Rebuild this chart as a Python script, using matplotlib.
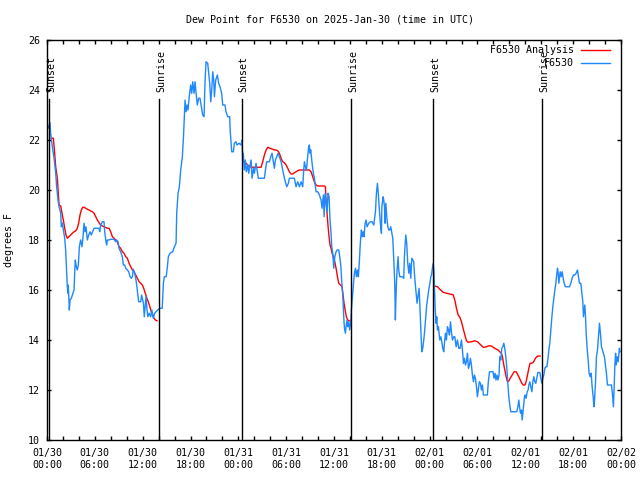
import numpy as np
import matplotlib
matplotlib.use("Agg")
import matplotlib.pyplot as plt

plt.rcParams['font.family'] = ['DejaVu Sans Mono']
plt.rcParams['font.size'] = 7.2

# hours since 2025-01-30 00:00 UTC, dew point in degrees F
obs_hours = [
    0.13, 0.38, 0.45, 0.67, 0.88, 1.09, 1.21, 1.38, 1.51, 1.72, 1.8, 1.92, 2.05, 2.22, 2.34, 2.47,
    2.55, 2.63, 2.67, 2.8, 2.89, 3.05, 3.26, 3.39, 3.47, 3.55, 3.68, 3.8, 3.93, 4.06, 4.22, 4.39,
    4.52, 4.64, 4.77, 4.89, 5.06, 5.23, 5.4, 5.56, 5.73, 5.9, 6.32, 6.53, 6.61, 6.73, 6.94, 7.15,
    7.24, 7.4, 7.48, 7.57, 7.78, 7.99, 8.41, 8.62, 8.74, 8.91, 9.03, 9.24, 9.45, 9.58, 9.75, 9.87,
    10.08, 10.25, 10.42, 10.58, 10.71, 10.83, 11.0, 11.13, 11.25, 11.38, 11.5, 11.75, 11.88, 12.0,
    12.1, 12.2, 12.42, 12.55, 12.65, 12.8, 13.0, 13.15, 13.34, 13.5, 13.67, 13.88, 14.18, 14.45,
    14.6, 14.72, 14.95, 15.1, 15.22, 15.43, 15.77, 15.98, 16.19, 16.27, 16.44, 16.6, 16.77, 16.98,
    17.11, 17.23, 17.32, 17.44, 17.57, 17.69, 17.82, 18.02, 18.15, 18.28, 18.44, 18.57, 18.7,
    18.86, 19.02, 19.19, 19.36, 19.53, 19.7, 19.82, 19.95, 20.16, 20.29, 20.41, 20.54, 20.66,
    20.79, 20.91, 21.0, 21.16, 21.37, 21.53, 21.7, 21.91, 22.04, 22.33, 22.45, 22.67, 22.92,
    22.96, 23.05, 23.17, 23.38, 23.5, 23.7, 23.84, 24.09,
    24.34, 24.47, 24.55, 24.62, 24.76, 24.88, 25.0, 25.18, 25.3, 25.43, 25.6, 25.72, 25.9, 26.01,
    26.22, 26.35, 26.51, 26.85, 27.27, 27.4, 27.56, 27.9, 28.07, 28.23, 28.36, 28.52, 28.65,
    28.82, 28.98, 29.15, 29.36, 29.57, 29.78, 29.9, 30.07, 30.28, 30.4, 31.03, 31.24, 31.45,
    31.66, 31.87, 32.08, 32.2, 32.29, 32.41, 32.54, 32.7, 32.8, 32.91, 33.0, 33.08, 33.25, 33.41,
    33.54, 33.75, 33.96, 34.17, 34.38, 34.5, 34.67, 34.76, 34.88, 35.0, 35.13, 35.25, 35.38,
    35.5, 35.63, 35.72, 35.84, 35.97, 36.1, 36.26, 36.39, 36.6, 36.72, 36.85, 36.93, 37.01,
    37.1, 37.22, 37.31, 37.43, 37.51, 37.64, 37.72, 37.85, 37.97, 38.1, 38.18, 38.31, 38.43,
    38.56, 38.69, 38.81, 38.94, 39.06, 39.19, 39.31, 39.44, 39.52, 39.65, 39.77, 39.9, 40.02,
    40.15, 40.36, 40.57, 40.78, 40.99, 41.2, 41.32, 41.45, 41.57, 41.66, 41.82, 41.95, 42.0,
    42.16, 42.24, 42.33, 42.41, 42.5, 42.62, 42.75, 42.87, 43.0, 43.12, 43.37, 43.5, 43.62,
    43.7, 43.75, 43.83, 43.91, 44.04, 44.12, 44.25, 44.54, 44.75, 44.83, 44.92, 45.0, 45.12,
    45.25, 45.38, 45.5, 45.63, 45.76, 45.88, 46.0, 46.13, 46.26, 46.42, 46.55, 46.67, 46.76,
    46.84, 46.93, 47.01, 47.13, 47.26, 47.38, 47.51, 47.63, 47.76, 47.88, 48.0, 48.14, 48.23,
    48.35, 48.43, 48.52, 48.6, 48.68, 48.81, 48.89, 48.98, 49.1, 49.27, 49.4, 49.52, 49.64,
    49.77, 49.85, 49.98, 50.1, 50.23, 50.36, 50.48, 50.61, 50.73, 50.86, 51.03, 51.15, 51.32,
    51.48, 51.65, 51.82, 51.99, 52.11, 52.24, 52.36, 52.49, 52.61, 52.74, 52.86, 52.99, 53.11,
    53.24, 53.36, 53.49, 53.61, 53.74, 53.87, 53.99, 54.12, 54.24, 54.37, 54.49, 54.62, 54.74,
    55.24, 55.36, 55.5, 55.95, 56.07, 56.2, 56.32, 56.45, 56.57, 56.7, 56.8, 56.92, 57.05,
    57.17, 57.3, 57.42, 57.55, 57.68, 57.8, 57.93, 58.05, 58.18, 58.93, 59.06, 59.18, 59.27,
    59.39, 59.52, 59.6, 59.68, 59.77, 59.89, 59.97, 60.1, 60.23, 60.35, 60.44, 60.56, 60.69,
    60.82, 60.94, 61.07, 61.19, 61.32, 61.44, 61.57, 61.82, 61.94, 62.07, 62.2, 62.32, 62.45,
    62.57, 62.7, 62.82, 62.95, 63.07, 63.2, 63.33, 63.45, 63.58, 63.7, 63.83, 63.95, 64.04,
    64.12, 64.2, 64.37, 64.5, 64.62, 64.75, 64.87, 65.04, 65.54, 65.71, 65.87, 66.04, 66.2,
    66.37, 66.54, 66.67, 66.79, 66.96, 67.08, 67.21, 67.29, 67.38, 67.46, 67.54, 67.63, 67.75,
    67.88, 68.0, 68.13, 68.26, 68.38, 68.51, 68.6, 68.68, 68.8, 68.92, 69.05, 69.17, 69.3,
    69.42, 69.55, 69.67, 69.8, 69.92, 70.05, 70.17, 70.3, 70.8, 70.92, 71.05, 71.13, 71.23,
    71.32, 71.4, 71.53, 71.65, 71.8, 71.88,
]
obs_dewpt = [
    22.47, 22.69, 22.28, 21.73, 21.28, 20.68, 20.13, 19.6, 19.33, 19.08, 18.53, 18.68, 18.4, 18.08, 17.6, 16.68,
    16.13, 15.87, 16.2, 15.2, 15.6, 15.67, 15.87, 16.0, 16.67, 17.2, 16.93, 16.8, 17.0, 17.73, 18.0, 17.73,
    18.13, 18.67, 18.33, 18.53, 18.0, 18.2, 18.33, 18.2, 18.33, 18.47, 18.47, 18.47, 18.33, 18.6, 18.73, 18.73,
    18.33, 17.93, 17.8, 18.0, 18.0, 18.03, 18.03, 17.93, 18.0, 17.93, 17.67, 17.53, 17.33, 17.0, 17.0, 16.87,
    16.8, 16.73, 16.53, 16.47, 16.53, 16.83, 16.67, 16.47, 16.2, 15.87, 15.53, 15.53, 15.8, 15.6,
    15.47, 14.93, 15.73, 15.2, 14.93, 15.07, 14.93, 15.2, 14.87, 15.07, 15.13, 15.2, 15.27, 15.27,
    16.27, 16.53, 16.53, 16.93, 17.33, 17.47, 17.53, 17.73, 17.87, 19.07, 19.87, 20.13, 20.8, 21.33,
    22.07, 22.93, 23.6, 23.13, 23.4, 23.2, 23.67, 24.2, 23.87, 24.33, 23.87, 24.33, 23.87,
    23.4, 23.67, 23.67, 23.33, 23.0, 22.93, 24.33, 25.13, 25.07, 24.67, 24.27, 23.53, 24.0,
    24.73, 24.4, 23.73, 24.4, 24.6, 24.27, 24.13, 23.87, 23.4, 23.4, 23.13, 22.93, 22.93,
    22.47, 22.07, 21.53, 21.53, 21.87, 21.93, 21.8, 21.87,
    21.8, 22.0, 21.13, 21.47, 20.8, 21.2, 20.73, 21.0, 20.67, 20.93, 21.2, 20.47, 20.87, 20.67,
    21.07, 20.8, 20.47, 20.47, 20.47, 20.8, 21.13, 21.13, 21.33, 21.47, 21.2, 20.87, 21.2,
    21.33, 21.47, 21.33, 21.13, 20.8, 20.47, 20.33, 20.13, 20.27, 20.47, 20.47, 20.13, 20.33,
    20.13, 20.33, 20.13, 20.8, 21.13, 20.93, 20.8, 21.33, 21.67, 21.8, 21.47, 21.6, 21.07, 20.67,
    20.47, 19.93, 19.93, 19.8, 19.6, 19.27, 19.8, 18.93, 19.87, 19.53, 19.13, 19.87, 19.73,
    18.8, 18.27, 17.73, 17.47, 16.87, 17.33, 17.53, 17.6, 17.6, 17.33, 17.0, 16.53, 16.13,
    15.8, 14.93, 14.47, 14.27, 14.53, 14.8, 14.53, 14.73, 14.4, 14.73, 15.2, 15.73, 16.2,
    16.67, 16.87, 16.53, 16.8, 16.53, 17.2, 17.93, 18.4, 18.13, 18.33, 18.13, 18.67, 18.8,
    18.53, 18.67, 18.73, 18.73, 18.6, 19.13, 19.87, 20.27, 19.8, 19.33, 18.67, 18.27, 19.33,
    19.73, 19.6, 19.33, 18.67, 19.47, 18.93, 18.53, 18.4, 18.4, 18.53, 18.07, 17.2, 16.27,
    14.8, 15.47, 16.27, 16.8, 17.33, 16.8, 16.53, 16.53, 16.47, 17.33, 17.8, 18.2, 17.87,
    17.07, 16.67, 17.07, 16.47, 17.27, 17.2, 17.13, 16.47, 16.0, 15.47, 15.8, 16.07, 15.47,
    14.8, 14.13, 13.53, 13.67, 14.0, 14.4, 14.93, 15.4, 15.73, 16.0, 16.2, 16.53, 16.6,
    16.87, 17.07, 16.8, 16.13, 15.33, 14.67, 14.93, 14.4, 14.53, 14.0, 14.13, 13.93, 13.67,
    13.53, 13.87, 14.27, 14.0, 14.53, 14.4, 14.2, 14.73, 14.33, 14.0, 14.13, 14.13, 13.73,
    14.0, 13.67, 13.67, 14.0, 13.6, 13.07, 13.27, 13.0, 13.13, 13.47, 12.87, 13.0, 13.27,
    13.0, 12.6, 12.33, 12.6, 12.47, 12.13, 11.73, 12.07, 12.33, 12.27, 12.0, 12.2, 11.8,
    11.8, 12.33, 12.73, 12.73, 12.47, 12.67, 12.4, 12.6, 12.4, 12.6, 13.33, 13.2, 13.67,
    13.73, 13.87, 13.67, 13.33, 12.87, 12.27, 11.73, 11.4, 11.13, 11.13, 11.33, 11.6, 11.33,
    11.07, 11.2, 10.8, 11.07, 11.33, 11.73, 11.8, 11.67, 11.93, 12.0, 12.2, 12.33, 12.13,
    11.93, 12.33, 12.53, 12.33, 12.27, 12.47, 12.7, 12.7, 12.47, 12.27, 12.47, 12.6, 12.87,
    12.93, 12.93, 13.2, 13.6, 13.87, 14.4, 14.93, 15.33, 15.67, 16.0, 16.27, 16.67, 16.87,
    16.67, 16.27, 16.73, 16.53, 16.73, 16.47, 16.27, 16.13, 16.13, 16.27, 16.47, 16.6, 16.6,
    16.67, 16.8, 16.53, 16.27, 16.27, 15.93, 15.53, 14.93, 15.2, 15.4, 15.0, 14.27, 13.67,
    13.2, 12.67, 12.53, 12.67, 12.13, 11.73, 11.33, 11.6, 12.27, 13.33, 13.6, 14.13, 14.67,
    14.27, 13.73, 13.6, 13.47, 13.33, 13.0, 12.67, 12.2, 12.2, 11.87, 11.33, 12.0, 13.0,
    13.47, 13.0, 13.33, 13.13, 13.67, 13.53,
]

# analysis series, NaN separates the three nights
ana_hours = [
    0.54, 0.8, 0.96, 1.09, 1.3, 1.38, 1.51, 1.72, 1.92, 2.05, 2.22, 2.38, 2.55, 2.76, 2.97, 3.18,
    3.39, 3.6, 3.8, 3.97, 4.14, 4.31, 4.48, 4.66, 4.85, 5.06, 5.27, 5.48, 5.69, 5.9, 6.11, 6.32,
    6.53, 6.73, 6.94, 7.15, 7.36, 7.57, 7.78, 7.99, 8.2, 8.41, 8.62, 8.83, 9.03, 9.24, 9.45,
    9.66, 9.87, 10.08, 10.29, 10.5, 10.71, 10.92, 11.13, 11.34, 11.55, 11.75, 11.96, 12.13,
    12.5, 12.84, 13.13, 13.42, 13.6, 13.8,
    np.nan,
    24.63, 24.96, 25.18, 25.39, 25.81, 26.22, 26.64, 26.85, 27.06, 27.27, 27.48, 27.69, 27.9,
    28.11, 28.32, 28.52, 28.73, 28.94, 29.15, 29.36, 29.57, 29.78, 29.99, 30.2, 30.4, 30.61,
    30.82, 31.03, 31.24, 31.45, 31.66, 32.08, 32.5, 32.91, 33.12, 33.33, 33.54, 33.75, 33.96,
    34.38, 34.8, 34.92, 35.0, 35.13, 35.26, 35.38, 35.5, 35.63, 35.76, 35.93, 36.1, 36.22,
    36.3, 36.43, 36.6, 36.81, 37.01, 37.14, 37.26, 37.43, 37.55, 37.72, 37.93,
    np.nan,
    48.64, 48.98, 49.27, 49.69, 50.11, 50.52, 50.94, 51.15, 51.36, 51.57, 51.78, 51.99, 52.2,
    52.41, 52.62, 52.82, 53.24, 53.66, 54.0, 54.29, 54.5, 54.71, 54.92, 55.12, 55.33, 55.54,
    55.75, 55.95, 56.16, 56.37, 56.58, 56.79, 57.0, 57.13, 57.26, 57.42, 57.59, 57.76, 57.93,
    58.1, 58.35, 58.6, 58.85, 59.01, 59.27, 59.52, 59.73, 59.94, 60.1, 60.23, 60.35, 60.48,
    60.6, 60.77, 60.94, 61.11, 61.27, 61.44, 61.61, 61.86,
]
ana_dewpt = [
    22.07, 22.07, 21.47, 20.93, 20.47, 20.07, 19.4, 19.36, 19.0, 18.8, 18.47, 18.2, 18.07, 18.13, 18.2, 18.27,
    18.33, 18.36, 18.47, 18.67, 19.0, 19.2, 19.31, 19.31, 19.27, 19.23, 19.2, 19.16, 19.13, 19.07, 18.93, 18.8,
    18.69, 18.6, 18.56, 18.53, 18.5, 18.47, 18.47, 18.33, 18.13, 18.07, 18.0, 17.93, 17.73, 17.67, 17.53,
    17.47, 17.33, 17.27, 17.07, 16.93, 16.8, 16.73, 16.6, 16.47, 16.33, 16.27, 16.2, 16.07,
    15.7, 15.4, 15.07, 14.87, 14.8, 14.77,
    np.nan,
    21.13, 21.07, 21.0, 20.93, 20.91, 20.91, 20.91, 20.91, 21.13, 21.4, 21.6, 21.71, 21.68,
    21.65, 21.63, 21.6, 21.6, 21.57, 21.47, 21.27, 21.13, 21.09, 21.0, 20.87, 20.73, 20.64,
    20.64, 20.69, 20.73, 20.77, 20.8, 20.8, 20.8, 20.8, 20.73, 20.53, 20.33, 20.2, 20.16,
    20.16, 20.16, 20.13, 19.6, 19.07, 18.53, 18.13, 17.8, 17.67, 17.47, 17.33, 17.13, 16.93,
    16.8, 16.53, 16.27, 16.2, 16.13, 15.8, 15.47, 15.13, 14.93, 14.8, 14.77,
    np.nan,
    16.16, 16.13, 16.03, 15.91, 15.87, 15.84, 15.81, 15.6, 15.27, 15.0, 14.91, 14.73, 14.47,
    14.2, 13.97, 13.91, 13.93, 13.97, 13.93, 13.84, 13.77, 13.71, 13.71, 13.73, 13.76, 13.77,
    13.76, 13.71, 13.67, 13.63, 13.6, 13.53, 13.47, 13.33, 13.07, 12.8, 12.53, 12.33, 12.36,
    12.47, 12.6, 12.73, 12.73, 12.64, 12.47, 12.29, 12.2, 12.2, 12.33, 12.53, 12.73, 12.93,
    13.07, 13.07, 13.09, 13.17, 13.27, 13.33, 13.36, 13.36,
]

sun_hours = [0.3, 14.1, 24.4, 38.17, 48.45, 62.15]
sun_labels = ["Sunset", "Sunrise", "Sunset", "Sunrise", "Sunset", "Sunrise"]

tick_hours = list(range(0, 73, 6))
tick_labels = ["01/30\n00:00", "01/30\n06:00", "01/30\n12:00", "01/30\n18:00",
               "01/31\n00:00", "01/31\n06:00", "01/31\n12:00", "01/31\n18:00",
               "02/01\n00:00", "02/01\n06:00", "02/01\n12:00", "02/01\n18:00",
               "02/02\n00:00"]

fig = plt.figure(figsize=(6.4, 4.8), dpi=100)
ax = fig.add_axes([47 / 640, 40 / 480, 574 / 640, 400 / 480])

red = '#ff0000'
blue = '#1e88ff'

ax.plot(ana_hours, ana_dewpt, color=red, lw=1)
ax.plot(obs_hours, obs_dewpt, color=blue, lw=1)

# sunrise / sunset markers
for t, lab in zip(sun_hours, sun_labels):
    ax.plot([t, t], [10, 23.64], color='black', lw=1)
    ax.annotate(lab, xy=(t, 23.92), xytext=(1.2, 0), textcoords='offset points',
                rotation=90, ha='center', va='bottom')

ax.set_xlim(0, 72)
ax.set_ylim(10, 26)
ax.set_xticks(tick_hours)
ax.set_xticklabels(tick_labels)
ax.set_xticks(range(0, 73, 2), minor=True)
ax.set_yticks(range(10, 27, 2))
ax.tick_params(which='both', direction='in', top=True, right=True, length=3, width=1, pad=6)
ax.tick_params(axis='y', pad=5)
for s in ax.spines.values():
    s.set_linewidth(1)

ax.set_ylabel("degrees F", labelpad=10)
fig.text(0.516, 0.96, "Dew Point for F6530 on 2025-Jan-30 (time in UTC)", ha='center', va='center')

# legend in gnuplot style: right-aligned labels, sample line to the right
ax.text(0.918, 0.975, "F6530 Analysis", transform=ax.transAxes, ha='right', va='center')
ax.plot([0.930, 0.981], [0.975, 0.975], color=red, lw=1, transform=ax.transAxes)
ax.text(0.918, 0.943, "F6530", transform=ax.transAxes, ha='right', va='center')
ax.plot([0.930, 0.981], [0.943, 0.943], color=blue, lw=1, transform=ax.transAxes)

fig.savefig("out.png", dpi=100)
